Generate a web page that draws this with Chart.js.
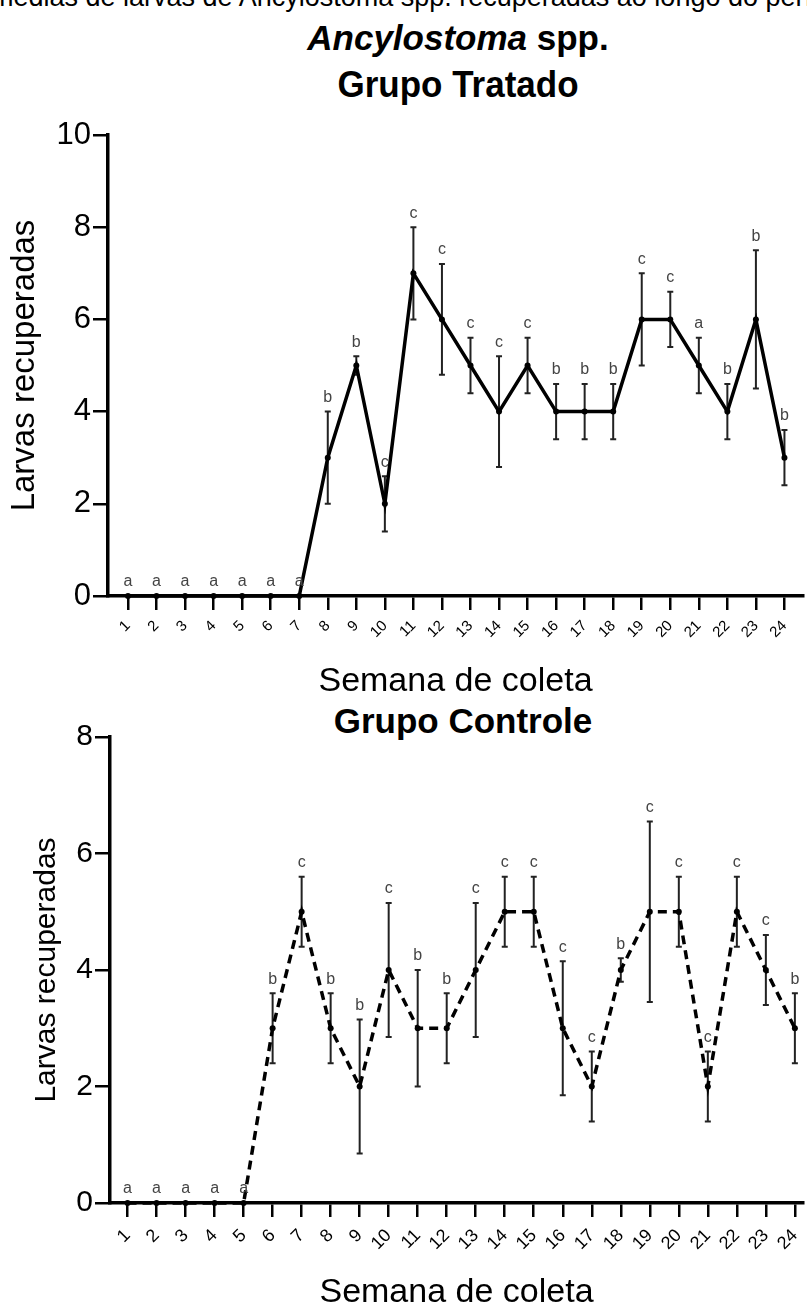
<!DOCTYPE html>
<html lang="pt">
<head>
<meta charset="utf-8">
<title>Ancylostoma spp. - larvas recuperadas</title>
<script src="https://cdn.jsdelivr.net/npm/chart.js@4.4.1/dist/chart.umd.min.js"></script>
<style>
  html, body { margin: 0; padding: 0; background: #fff; }
  body {
    position: relative;
    width: 807px;
    height: 1305px;
    overflow: hidden;
    font-family: 'Liberation Sans', Arial, sans-serif;
    color: #000;
  }
  .txt { position: absolute; white-space: nowrap; }
  #caption { left: -9px; top: -16px; font-size: 27px; line-height: 27px; }
  #species { left: 458px; top: 20px; transform: translateX(-50%); font-size: 35px; line-height: 35px; font-weight: bold; }
  #treatedTitle { left: 458px; top: 66px; transform: translateX(-50%) scaleY(1.08); font-size: 35px; line-height: 35px; font-weight: bold; }
  #controlTitle { left: 463px; top: 703px; transform: translateX(-50%); font-size: 35px; line-height: 35px; font-weight: bold; }
  canvas { position: absolute; left: 0; }
  #treatedChart { top: 100px; }
  #controlChart { top: 700px; }
</style>
</head>
<body>
<div class="txt" id="caption">médias de larvas de Ancylostoma spp. recuperadas ao longo do período de coleta</div>
<div class="txt" id="species"><i>Ancylostoma</i> spp.</div>
<div class="txt" id="treatedTitle">Grupo Tratado</div>
<div class="txt" id="controlTitle">Grupo Controle</div>
<canvas id="treatedChart" width="807" height="610"></canvas>
<canvas id="controlChart" width="807" height="620"></canvas>

<script>
// Semanas de coleta (eixo x)
const weeks = [1, 2, 3, 4, 5, 6, 7, 8, 9, 10, 11, 12, 13, 14, 15, 16, 17, 18, 19, 20, 21, 22, 23, 24];
const weekLabels = weeks.map(String);

// Grupo Tratado: media, erro e letras
const treatedMean = [0, 0, 0, 0, 0, 0, 0, 3, 5, 2, 7, 6, 5, 4, 5, 4, 4, 4, 6, 6, 5, 4, 6, 3];
const treatedErr = [0, 0, 0, 0, 0, 0, 0, 1, 0.2, 0.6, 1, 1.2, 0.6, 1.2, 0.6, 0.6, 0.6, 0.6, 1, 0.6, 0.6, 0.6, 1.5, 0.6];
const treatedLetters = ['a', 'a', 'a', 'a', 'a', 'a', 'a', 'b', 'b', 'c', 'c', 'c', 'c', 'c', 'c', 'b', 'b', 'b', 'c', 'c', 'a', 'b', 'b', 'b'];
const treatedYTicks = [0, 2, 4, 6, 8, 10];

// Grupo Controle: media, erro e letras
const controlMean = [0, 0, 0, 0, 0, 3, 5, 3, 2, 4, 3, 3, 4, 5, 5, 3, 2, 4, 5, 5, 2, 5, 4, 3];
const controlErr = [0, 0, 0, 0, 0, 0.6, 0.6, 0.6, 1.15, 1.15, 1, 0.6, 1.15, 0.6, 0.6, 1.15, 0.6, 0.2, 1.55, 0.6, 0.6, 0.6, 0.6, 0.6];
const controlLetters = ['a', 'a', 'a', 'a', 'a', 'b', 'c', 'b', 'b', 'c', 'b', 'b', 'c', 'c', 'c', 'c', 'c', 'b', 'c', 'c', 'c', 'c', 'c', 'b'];
const controlYTicks = [0, 2, 4, 6, 8];

const FONT = "'Liberation Sans', Arial, sans-serif";

/**
 * Draws the error bars under the line and the letters above each point
 */
const errorBarPlugin = {
    id: 'errorBars',
    beforeDatasetsDraw(chart) {
        const { ctx, scales: { x, y } } = chart;
        chart.data.datasets.forEach(ds => {
            ctx.save();
            ctx.strokeStyle = '#222';
            ctx.lineWidth = 2;
            ds.data.forEach((pt, i) => {
                const e = ds.errors[i];
                if (!e) return;
                const px = x.getPixelForValue(pt.x);
                const top = y.getPixelForValue(pt.y + e);
                const bot = y.getPixelForValue(pt.y - e);
                ctx.beginPath();
                ctx.moveTo(px, top);
                ctx.lineTo(px, bot);
                ctx.moveTo(px - 3, top);
                ctx.lineTo(px + 3, top);
                ctx.moveTo(px - 3, bot);
                ctx.lineTo(px + 3, bot);
                ctx.stroke();
            });
            ctx.restore();
        });
    },
    afterDatasetsDraw(chart) {
        const { ctx, scales: { x, y } } = chart;
        chart.data.datasets.forEach(ds => {
            ctx.save();
            ctx.fillStyle = '#444';
            ctx.font = '16px ' + FONT;
            ctx.textAlign = 'center';
            ctx.textBaseline = 'middle';
            ds.data.forEach((pt, i) => {
                const e = ds.errors[i] || 0;
                ctx.fillText(ds.letters[i], x.getPixelForValue(pt.x), y.getPixelForValue(pt.y + e) - 14);
            });
            ctx.restore();
        });
    }
};

/**
 * Build one panel (line + error bars) on the given canvas
 */
function buildChart(id, series, layout) {
    const ctx = document.getElementById(id);
    return new Chart(ctx, {
        type: 'line',
        data: {
            datasets: [{
                data: weeks.map((w, i) => ({ x: w, y: series.mean[i] })),
                errors: series.err,
                letters: series.letters,
                borderColor: '#000',
                backgroundColor: '#000',
                borderWidth: 3.5,
                borderDash: series.dash,
                pointRadius: 3,
                pointBackgroundColor: '#000',
                pointBorderWidth: 0,
                tension: 0,
                clip: false
            }]
        },
        options: {
            responsive: false,
            animation: false,
            devicePixelRatio: 1,
            layout: { padding: { top: layout.top, left: 0, right: 0, bottom: 0 } },
            plugins: {
                legend: { display: false },
                tooltip: { enabled: false }
            },
            scales: {
                x: {
                    type: 'linear',
                    min: layout.xMin,
                    max: layout.xMax,
                    afterBuildTicks: s => { s.ticks = weeks.map(v => ({ value: v })); },
                    // fixed height, and no extra side padding so the axis runs to the edge
                    afterFit: s => {
                        s.height = layout.xHeight;
                        s.paddingLeft = 0;
                        s.paddingRight = 0;
                    },
                    border: { display: true, color: '#000', width: 3.5 },
                    grid: { display: true, drawOnChartArea: false, drawTicks: true, tickLength: 14, color: '#000', lineWidth: 2.5 },
                    ticks: {
                        autoSkip: false,
                        minRotation: 45,
                        maxRotation: 45,
                        padding: layout.xTickPad,
                        color: '#000',
                        font: { family: FONT, size: layout.xTickSize },
                        callback: v => weekLabels[weeks.indexOf(v)]
                    },
                    title: {
                        display: true,
                        text: 'Semana de coleta',
                        color: '#000',
                        font: { family: FONT, size: 34, lineHeight: 1.2 },
                        padding: { top: 0, bottom: layout.xTitlePad }
                    }
                },
                y: {
                    min: 0,
                    max: series.yTicks[series.yTicks.length - 1],
                    afterBuildTicks: s => { s.ticks = series.yTicks.map(v => ({ value: v })); },
                    afterFit: s => { s.width = layout.yWidth; },
                    border: { display: true, color: '#000', width: 3.5 },
                    grid: { display: true, drawOnChartArea: false, drawTicks: true, tickLength: 15, color: '#000', lineWidth: 2.5 },
                    ticks: {
                        padding: 2,
                        color: '#000',
                        font: { family: FONT, size: layout.yTickSize }
                    },
                    title: {
                        display: true,
                        text: 'Larvas recuperadas',
                        color: '#000',
                        font: { family: FONT, size: layout.yTitleSize, lineHeight: 1.2 },
                        padding: { top: layout.yTitlePad, bottom: 0 }
                    }
                }
            }
        },
        plugins: [errorBarPlugin]
    });
}

document.addEventListener('DOMContentLoaded', function() {
    buildChart('treatedChart',
        { mean: treatedMean, err: treatedErr, letters: treatedLetters, yTicks: treatedYTicks, dash: [] },
        { top: 35, xHeight: 114, yWidth: 108, xMin: 0.3, xMax: 24.65, xTickSize: 15, xTickPad: 7, yTickSize: 31, yTitleSize: 33, yTitlePad: 5, xTitlePad: 8 });

    buildChart('controlChart',
        { mean: controlMean, err: controlErr, letters: controlLetters, yTicks: controlYTicks, dash: [9, 6] },
        { top: 37, xHeight: 117, yWidth: 110, xMin: 0.395, xMax: 24.28, xTickSize: 18, xTickPad: 8, yTickSize: 30, yTitleSize: 30, yTitlePad: 29, xTitlePad: 7 });
});
</script>
</body>
</html>
